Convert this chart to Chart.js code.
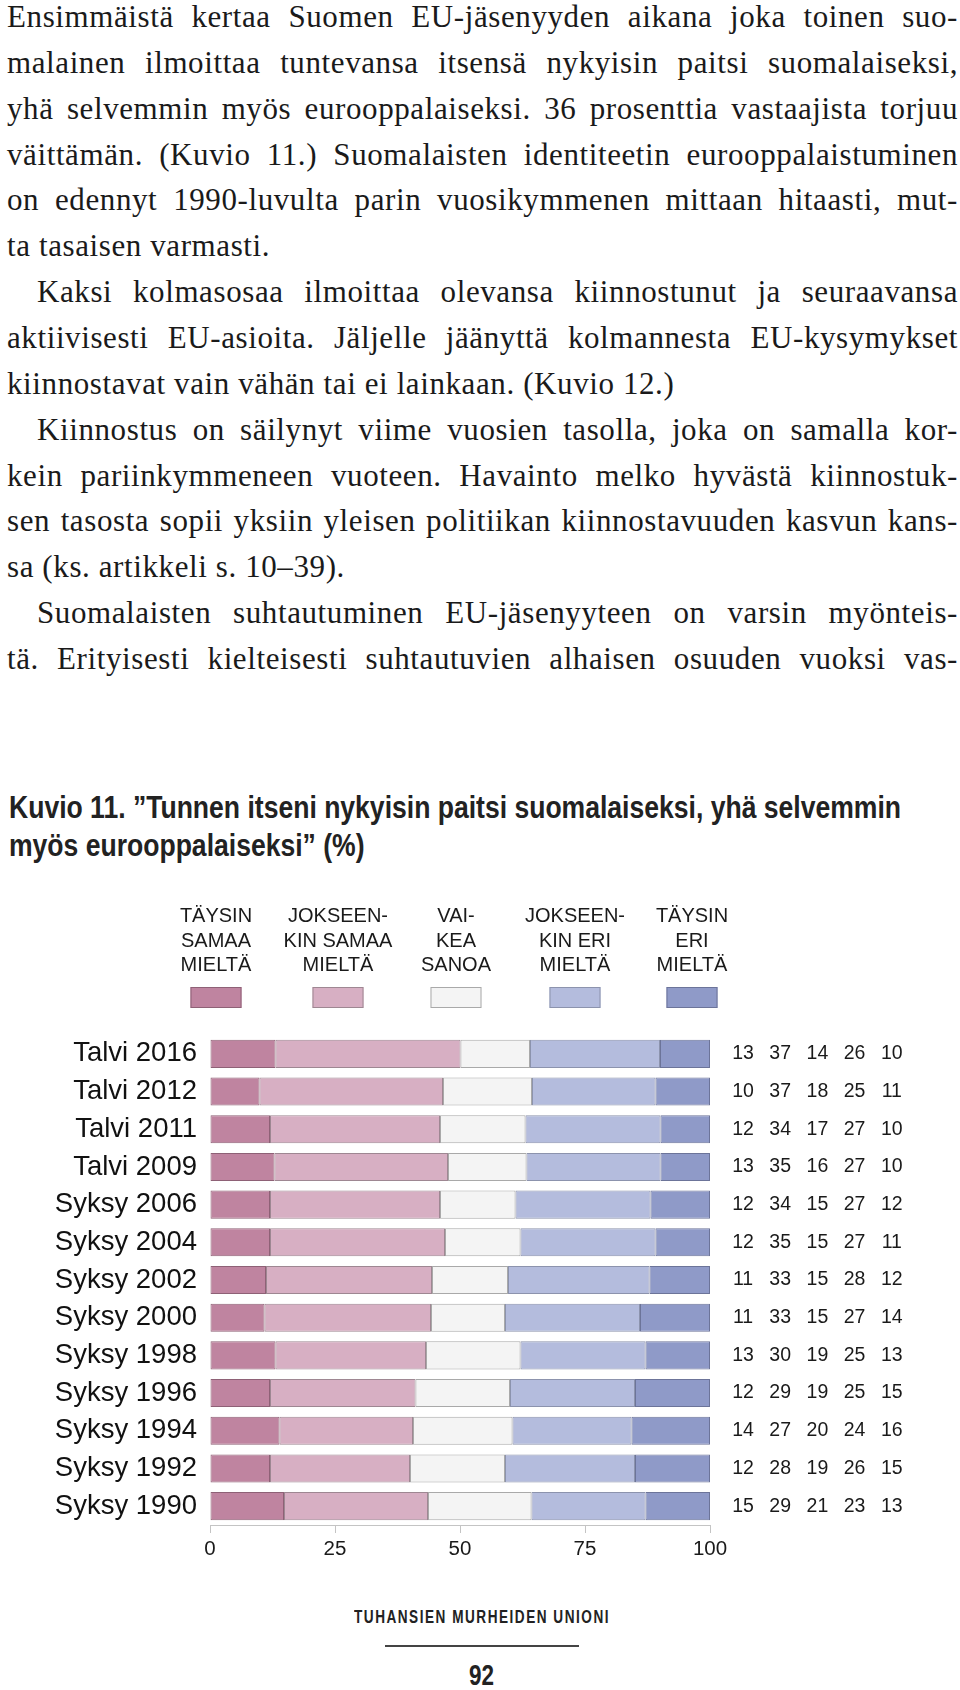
<!DOCTYPE html>
<html lang="fi">
<head>
<meta charset="utf-8">
<script src="https://cdn.jsdelivr.net/npm/chart.js@4.4.1/dist/chart.umd.min.js"></script>
<style>
html, body { margin: 0; padding: 0; background: #fff; }
body { width: 960px; height: 1690px; position: relative; overflow: hidden; }
#text { position: absolute; left: 7px; top: -6px; width: 951px; font-family: "Liberation Serif", serif; font-size: 31px; letter-spacing: 0.6px; color: #1a1a1a; }
#text div { height: 45.86px; line-height: 45.86px; text-align: justify; text-align-last: justify; }
#text div.last { text-align-last: left; }
#text div.ind { text-indent: 30px; }
.fit { position: absolute; white-space: nowrap; transform-origin: 0 0; font-family: "Liberation Sans", Arial, sans-serif; font-weight: bold; color: #222; }
#rule { position: absolute; left: 385px; top: 1645px; width: 194px; height: 2px; background: #444; }
#chartBox { position: absolute; left: 0; top: 870px; width: 960px; height: 700px; }
</style>
</head>
<body>
<div id="text">
  <div>Ensimmäistä kertaa Suomen EU-jäsenyyden aikana joka toinen suo-</div>
  <div>malainen ilmoittaa tuntevansa itsensä nykyisin paitsi suomalaiseksi,</div>
  <div>yhä selvemmin myös eurooppalaiseksi. 36 prosenttia vastaajista torjuu</div>
  <div>väittämän. (Kuvio 11.) Suomalaisten identiteetin eurooppalaistuminen</div>
  <div>on edennyt 1990-luvulta parin vuosikymmenen mittaan hitaasti, mut-</div>
  <div class="last">ta tasaisen varmasti.</div>
  <div class="ind">Kaksi kolmasosaa ilmoittaa olevansa kiinnostunut ja seuraavansa</div>
  <div>aktiivisesti EU-asioita. Jäljelle jäänyttä kolmannesta EU-kysymykset</div>
  <div class="last">kiinnostavat vain vähän tai ei lainkaan. (Kuvio 12.)</div>
  <div class="ind">Kiinnostus on säilynyt viime vuosien tasolla, joka on samalla kor-</div>
  <div>kein pariinkymmeneen vuoteen. Havainto melko hyvästä kiinnostuk-</div>
  <div>sen tasosta sopii yksiin yleisen politiikan kiinnostavuuden kasvun kans-</div>
  <div class="last">sa (ks. artikkeli s. 10–39).</div>
  <div class="ind">Suomalaisten suhtautuminen EU-jäsenyyteen on varsin myönteis-</div>
  <div>tä. Erityisesti kielteisesti suhtautuvien alhaisen osuuden vuoksi vas-</div>
</div>

<div class="fit" id="title1" style="left:9px; top:792px; font-size:31px; line-height:31px;">Kuvio 11. ”Tunnen itseni nykyisin paitsi suomalaiseksi, yhä selvemmin</div>
<div class="fit" id="title2" style="left:9px; top:830px; font-size:31px; line-height:31px;">myös eurooppalaiseksi” (%)</div>

<div id="chartBox"><canvas id="chart-area"></canvas></div>

<div class="fit" id="foot" style="top:1608px; font-size:18px; line-height:18px; letter-spacing:2px;">TUHANSIEN MURHEIDEN UNIONI</div>
<div id="rule"></div>
<div class="fit" id="page" style="top:1661px; font-size:29px; line-height:29px;">92</div>

<script>
const categories = ['Talvi 2016', 'Talvi 2012', 'Talvi 2011', 'Talvi 2009', 'Syksy 2006', 'Syksy 2004',
    'Syksy 2002', 'Syksy 2000', 'Syksy 1998', 'Syksy 1996', 'Syksy 1994', 'Syksy 1992', 'Syksy 1990'];
const seriesNames = [
    ['TÄYSIN', 'SAMAA', 'MIELTÄ'],
    ['JOKSEEN-', 'KIN SAMAA', 'MIELTÄ'],
    ['VAI-', 'KEA', 'SANOA'],
    ['JOKSEEN-', 'KIN ERI', 'MIELTÄ'],
    ['TÄYSIN', 'ERI', 'MIELTÄ']
];
// bar lengths as drawn in the figure (%)
const taysinSamaa     = [13.1,  9.9, 12.0, 12.9, 12.0, 12.0, 11.2, 10.9, 13.1, 12.0, 13.9, 12.0, 14.8];
const jokseenkinSamaa = [37.0, 36.7, 34.0, 34.7, 34.0, 35.0, 33.2, 33.3, 30.1, 29.1, 26.7, 28.0, 28.8];
const vaikeaSanoa     = [13.9, 17.8, 17.1, 15.7, 15.1, 15.1, 15.2, 14.8, 18.9, 18.9, 19.9, 19.0, 20.7];
const jokseenkinEri   = [26.0, 24.7, 27.0, 26.8, 27.0, 27.0, 28.3, 27.0, 25.0, 25.0, 23.8, 26.0, 22.8];
const taysinEri       = [10.0, 10.9,  9.9,  9.9, 11.9, 10.9, 12.1, 14.0, 12.9, 15.0, 15.7, 15.0, 12.9];
// rounded figures printed right of the bars
const shownPercents = [
    [13, 37, 14, 26, 10],
    [10, 37, 18, 25, 11],
    [12, 34, 17, 27, 10],
    [13, 35, 16, 27, 10],
    [12, 34, 15, 27, 12],
    [12, 35, 15, 27, 11],
    [11, 33, 15, 28, 12],
    [11, 33, 15, 27, 14],
    [13, 30, 19, 25, 13],
    [12, 29, 19, 25, 15],
    [14, 27, 20, 24, 16],
    [12, 28, 19, 26, 15],
    [15, 29, 21, 23, 13]
];
const xTicks = [0, 25, 50, 75, 100];

const fills = ['#bf84a0', '#d7afc3', '#f4f4f4', '#b4bcdd', '#8f9ac8'];
const edges = ['#8e6176', '#9e8792', '#a9a9a9', '#8c93ad', '#6c7499'];
const legendX = [216, 338, 456, 575, 692];
const sans = '"Liberation Sans", Arial, sans-serif';

const legendHeads = {
    id: 'legendHeads',
    afterDraw(chart) {
        const ctx = chart.ctx;
        ctx.save();
        ctx.font = '20px ' + sans;
        ctx.textAlign = 'center';
        ctx.textBaseline = 'alphabetic';
        seriesNames.forEach((lines, i) => {
            const cx = legendX[i];
            ctx.fillStyle = '#1a1a1a';
            lines.forEach((t, k) => ctx.fillText(t, cx, 52 + k * 24.5));
            ctx.fillStyle = fills[i];
            ctx.fillRect(cx - 25.5, 117, 51, 21);
            ctx.strokeStyle = edges[i];
            ctx.lineWidth = 1;
            ctx.strokeRect(cx - 25, 117.5, 50, 20);
        });
        ctx.restore();
    }
};

const rowNumbers = {
    id: 'rowNumbers',
    afterDraw(chart) {
        const ctx = chart.ctx;
        const area = chart.chartArea;
        const y = chart.scales.y;
        ctx.save();
        ctx.font = '19.5px ' + sans;
        ctx.fillStyle = '#1a1a1a';
        ctx.textAlign = 'center';
        ctx.textBaseline = 'middle';
        shownPercents.forEach((row, i) => {
            const py = y.getPixelForValue(i);
            row.forEach((v, j) => ctx.fillText(String(v), area.right + 33 + j * 37.2, py));
        });
        ctx.restore();
    }
};

function createChart() {
    const ctx = document.getElementById('chart-area').getContext('2d');
    const series = [taysinSamaa, jokseenkinSamaa, vaikeaSanoa, jokseenkinEri, taysinEri];
    return new Chart(ctx, {
        type: 'bar',
        data: {
            labels: categories,
            datasets: series.map((vals, i) => ({
                label: seriesNames[i].join(' '),
                data: vals,
                backgroundColor: fills[i],
                borderColor: edges[i],
                borderWidth: 1,
                borderSkipped: false,
                categoryPercentage: 1,
                barPercentage: 0.745
            }))
        },
        options: {
            indexAxis: 'y',
            responsive: true,
            maintainAspectRatio: false,
            animation: false,
            devicePixelRatio: 1,
            layout: { padding: { top: 165, right: 250, left: 0, bottom: 0 } },
            plugins: {
                legend: { display: false },
                title: { display: false },
                tooltip: { enabled: false }
            },
            scales: {
                x: {
                    stacked: true,
                    min: 0,
                    max: 100,
                    afterBuildTicks: (scale) => { scale.ticks = xTicks.map(v => ({ value: v })); },
                    afterFit: (scale) => { scale.height = 45; },
                    ticks: {
                        color: '#1a1a1a',
                        font: { family: sans, size: 20.5 },
                        padding: 4,
                        maxRotation: 0
                    },
                    grid: {
                        display: true,
                        drawOnChartArea: false,
                        drawTicks: true,
                        tickLength: 8,
                        color: '#c4c4c4'
                    },
                    border: { display: true, color: '#c4c4c4', width: 1 }
                },
                y: {
                    stacked: true,
                    afterFit: (scale) => { scale.width = 210; },
                    ticks: {
                        color: '#111',
                        font: { family: sans, size: 27.5 },
                        padding: 13
                    },
                    grid: { display: false, drawTicks: false },
                    border: { display: false }
                }
            }
        },
        plugins: [legendHeads, rowNumbers]
    });
}

function fitWidth(id, target, centerX) {
    const el = document.getElementById(id);
    const w = el.getBoundingClientRect().width;
    const s = target / w;
    el.style.transform = 'scaleX(' + s + ')';
    if (centerX !== undefined) el.style.left = (centerX - target / 2) + 'px';
    return s;
}

document.fonts.ready.then(() => {
    const s = fitWidth('title1', 892);
    document.getElementById('title2').style.transform = 'scaleX(' + s + ')';
    fitWidth('foot', 256, 482);
    fitWidth('page', 25, 481);
});

createChart();
</script>
</body>
</html>
